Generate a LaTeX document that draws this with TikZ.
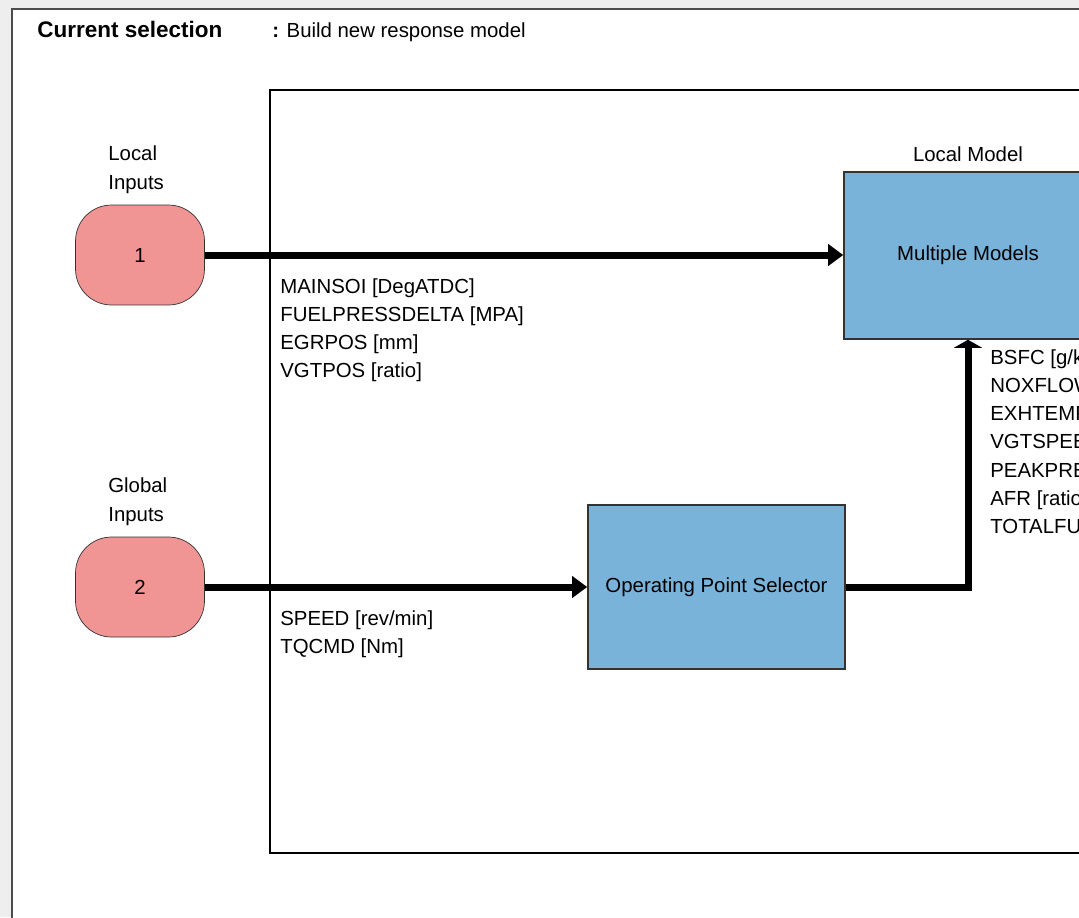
\documentclass[tikz,border=0pt]{standalone}
\usepackage{fontspec}
\setmainfont{Liberation Sans}
\usetikzlibrary{arrows.meta,positioning,calc}
\definecolor{inpink}{RGB}{240,148,148}
\definecolor{blkblue}{RGB}{122,179,217}
\definecolor{panelgray}{RGB}{238,238,238}

\begin{document}
\begin{tikzpicture}[x=0.02cm,y=-0.02cm,
  font=\fontsize{11.6}{14}\selectfont,
  inport/.style={draw=black!80,fill=inpink,rounded corners=0.72cm,minimum width=2.58cm,minimum height=2cm,inner sep=0},
  block/.style={draw=black!80,line width=0.9pt,fill=blkblue,inner sep=0},
  flow/.style={line width=0.14cm,-{Triangle[length=0.3cm,width=0.42cm]}},
  sig/.style={anchor=base west,inner sep=0}]
\useasboundingbox (0,0) rectangle (1079,917);
\fill[panelgray] (0,0) rectangle (1079,917);
\filldraw[fill=white,draw=black!70,line width=1.5pt] (12,9) rectangle (1110,950);
\draw[line width=0.85pt] (270,90) rectangle (1110,853);

% header line
\node[sig] (cursel) at (37,37) {\fontsize{12.8}{15}\selectfont\bfseries Current selection};
\node[sig] (curval) at (272,37) {\textbf{:} Build new response model};

% inputs
\node[inport] (in1) at (140,255) {1};
\node[inport] (in2) at (140,587) {2};
\node[sig] (loclbl) at (108,160) {Local};
\node[sig] (loclbl2) at (108,189) {Inputs};
\node[sig] (glblbl) at (108,492) {Global};
\node[sig] (glblbl2) at (108,521) {Inputs};

% blocks
\node[block,minimum width=4.96cm,minimum height=3.34cm] (mm) at (968,255.5) {Multiple Models};
\node[inner sep=0,above=0.18cm of mm] (mmlbl) {Local Model};
\node[block,minimum width=5.14cm,minimum height=3.28cm] (ops) at (716.5,587) {Operating Point Selector};

% connectors
\draw[flow] (in1.east) -- (in1.east -| mm.west);
\draw[flow] (in2.east) -- (ops.west);
\draw[line width=0.14cm,-{Triangle[length=0.16cm,width=0.56cm]}] (ops.east) -| (mm.south);

% signal names
\foreach \t [count=\i] in {MAINSOI [DegATDC],FUELPRESSDELTA [MPA],EGRPOS [mm],VGTPOS [ratio]}
  \node[sig] (loc\i) at (280,{293+28*(\i-1)}) {\t};
\foreach \t [count=\i] in {{SPEED [rev/min]},{TQCMD [Nm]}}
  \node[sig] (glb\i) at (280,{625+28*(\i-1)}) {\t};
\foreach \t [count=\i] in {{BSFC [g/k},NOXFLOW,EXHTEMP,VGTSPEE,PEAKPRE,{AFR [ratio},TOTALFU}
  \node[sig] (rsp\i) at (990,{364+28.3*(\i-1)}) {\t};
\end{tikzpicture}
\end{document}
